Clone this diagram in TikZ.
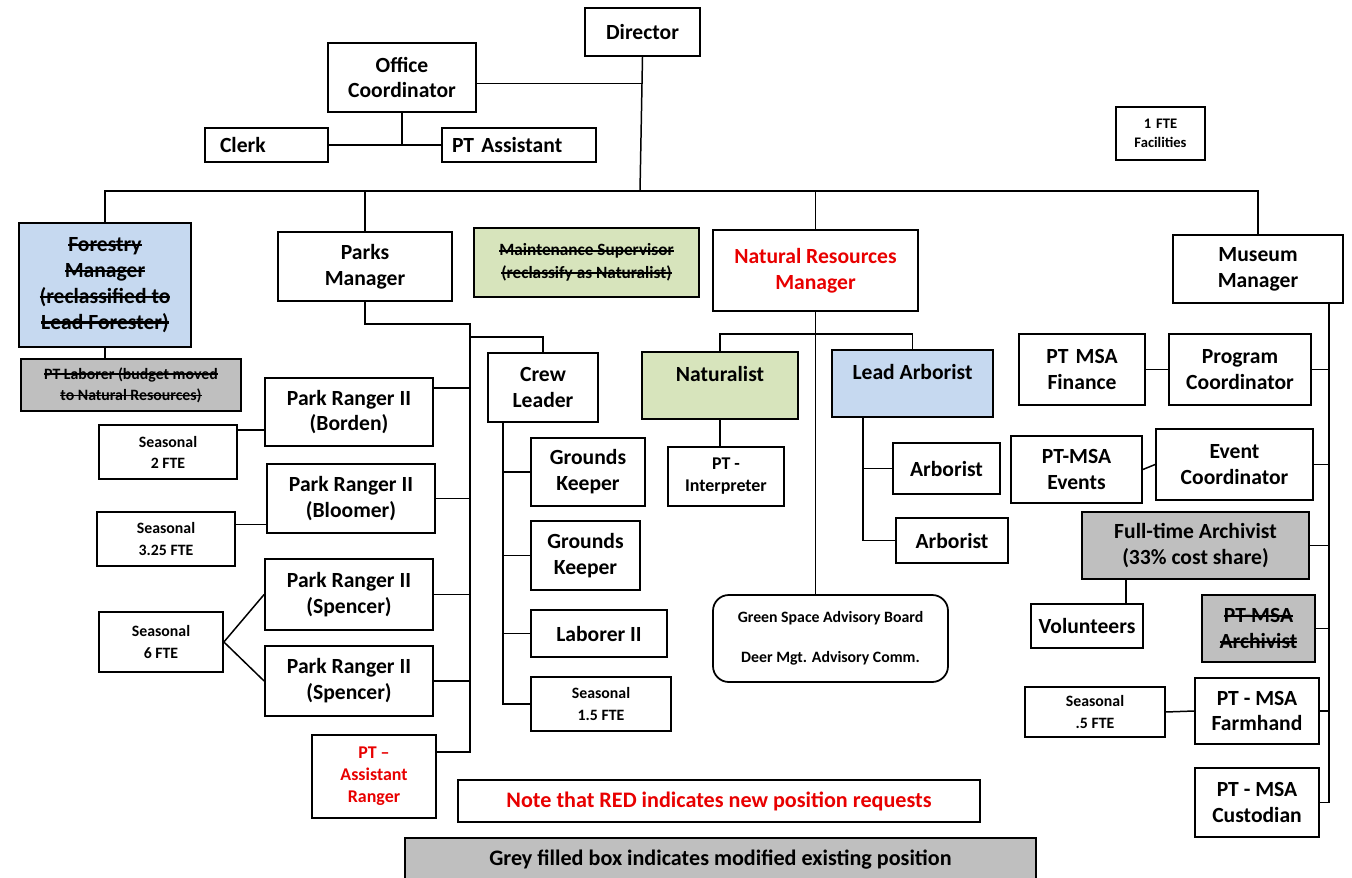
\documentclass[tikz,border=0pt]{standalone}
\usepackage{fontspec}
\setmainfont{Carlito}
\usetikzlibrary{calc}
\definecolor{bluef}{RGB}{198,217,240}
\definecolor{olivef}{RGB}{215,228,188}
\definecolor{greyf}{RGB}{191,191,191}
\definecolor{newred}{RGB}{232,0,0}
\newcommand\strk[1]{\leavevmode\setbox0\hbox{#1}\rlap{\rule[0.24em]{\wd0}{0.12em}}\box0}
\newcommand\bx[7]{\node[#6, minimum width={(#4-#2)*0.02cm}, minimum height={(#5-#3)*0.02cm}] (#1) at ({(#2+#4)/2},{(#3+#5)/2}) {#7};}
\tikzset{
  box/.style={draw=black, line width=1pt, inner sep=0pt, align=center, font=\bfseries\fontsize{12.3}{14.7}\selectfont},
  smallbox/.style={box, font=\bfseries\fontsize{9}{12}\selectfont},
  midbox/.style={box, font=\bfseries\fontsize{10.2}{12.5}\selectfont},
  conn/.style={draw=black, line width=0.85pt},
}
\begin{document}
\begin{tikzpicture}[x=0.02cm,y=-0.02cm]
\useasboundingbox (0,0) rectangle (1352,878);
% top
\bx{dir}{585}{8}{700}{56}{box}{Director}
\bx{oc}{328}{43}{476}{112}{box}{Office\\Coordinator}
\node[box, minimum height={34*0.02cm}, text width={(123-30)*0.02cm}, inner xsep={15*0.02cm}, align=left] (clerk) at (266.5,145) {Clerk};
\node[box, minimum height={34*0.02cm}, text width={(154-20)*0.02cm}, inner xsep={10*0.02cm}, align=left] (pta) at (519,145) {PT Assistant};
\bx{fac}{1116}{107}{1205}{160}{box, font=\bfseries\fontsize{8.3}{10.8}\selectfont}{1\,\,FTE\\Facilities}
% level 2
\bx{fm}{19}{223}{191}{347}{box, fill=bluef}{\strk{Forestry}\\\strk{Manager}\\\strk{(reclassified to}\\\strk{Lead Forester)}}
\bx{lab}{21}{359}{241}{411}{box, fill=greyf, font=\bfseries\fontsize{9}{12}\selectfont}{\strk{PT Laborer (budget moved}\\\strk{to Natural Resources)}}
\bx{pm}{278}{232}{452}{301}{box}{Parks\\Manager}
\bx{ms}{474}{228}{699}{297}{box, fill=olivef, font=\bfseries\fontsize{9.8}{13}\selectfont}{\strk{Maintenance Supervisor}\\\strk{(reclassify as Naturalist)}}
\bx{nrm}{713}{230}{918}{311}{box, text=newred}{Natural Resources\\Manager}
\bx{mm}{1173}{235}{1343}{303}{box}{Museum\\Manager}
% parks
\bx{pr1}{265}{378}{433}{446}{box}{Park Ranger II\\(Borden)}
\bx{pr2}{267}{464}{435}{533}{box}{Park Ranger II\\(Bloomer)}
\bx{pr3}{265}{559}{433}{630}{box}{Park Ranger II\\(Spencer)}
\bx{pr4}{265}{646}{433}{716}{box}{Park Ranger II\\(Spencer)}
\bx{ptar}{312}{735}{436}{818}{midbox, text=newred}{PT --\\Assistant\\Ranger}
\bx{s2}{99}{425}{237}{479}{smallbox}{Seasonal\\2 FTE}
\bx{s3}{97}{512}{235}{566}{smallbox}{Seasonal\\3.25 FTE}
\bx{s6}{99}{612}{223}{672}{smallbox}{Seasonal\\6 FTE}
\bx{cl}{488}{353}{598}{422}{box}{Crew\\Leader}
\bx{gk1}{531}{438}{645}{506}{box}{Grounds\\Keeper}
\bx{gk2}{531}{521}{640}{590}{box}{Grounds\\Keeper}
\bx{l2}{531}{610}{667}{657}{box}{Laborer II}
\bx{s15}{531}{677}{671}{731}{smallbox}{Seasonal\\1.5 FTE}
% natural resources
\bx{nat}{642}{352}{798}{419}{box, fill=olivef}{Naturalist\\[-2pt]\mbox{}}
\bx{pti}{668}{447}{784}{506}{midbox}{PT -\\Interpreter}
\bx{la}{832}{350}{993}{417}{box, fill=bluef}{Lead Arborist\\[-2pt]\mbox{}}
\bx{ar1}{893}{443}{1000}{494}{box}{Arborist}
\bx{ar2}{896}{518}{1008}{563}{box}{Arborist}
\node[box, rounded corners=9pt, minimum width={235*0.02cm}, minimum height={87*0.02cm}, font=\bfseries\fontsize{9}{11}\selectfont] (gs) at (830.5,638.5) {Green Space Advisory Board\\[12pt]Deer Mgt. Advisory Comm.};
% museum
\bx{fin}{1019}{334}{1145}{405}{box}{PT\,\,MSA\\Finance}
\bx{pc}{1169}{334}{1311}{405}{box}{Program\\Coordinator}
\bx{ev}{1011}{436}{1142}{503}{box}{PT-MSA\\Events}
\bx{ec}{1156}{429}{1313}{500}{box}{Event\\Coordinator}
\bx{fa}{1082}{512}{1309}{579}{box, fill=greyf}{Full-time Archivist\\(33\% cost share)}
\bx{vol}{1031}{604}{1143}{648}{box}{Volunteers}
\bx{arch}{1202}{595}{1315}{662}{box, fill=greyf}{\strk{PT-MSA}\\\strk{Archivist}}
\bx{s05}{1025}{687}{1165}{737}{smallbox}{Seasonal\\.5 FTE}
\bx{fh}{1195}{678}{1319}{744}{box}{PT - MSA\\Farmhand}
\bx{cus}{1195}{768}{1319}{837}{box}{PT - MSA\\Custodian}
% legend
\bx{note}{458}{780}{980}{822}{box, text=newred, font=\bfseries\fontsize{12.6}{14.7}\selectfont}{Note that RED indicates new position requests}
\bx{grey}{405}{838}{1036}{882}{box, fill=greyf, font=\bfseries\fontsize{12.6}{14.7}\selectfont}{Grey filled box indicates modified existing position}

% connectors top
\coordinate (bar) at (640,191);
\coordinate (ocr) at ($(oc.east)+(0,6)$);
\draw[conn] (dir.south) -- (bar);
\draw[conn] (ocr) -- (ocr -| dir.south);
\draw[conn] (oc.south) -- (oc.south |- clerk.east);
\draw[conn] (clerk.east) -- (pta.west);
\draw[conn] (fm.north) |- (mm.north |- bar) -- (mm.north);
\draw[conn] (pm.north) -- (pm.north |- bar);
\draw[conn] (nrm.north) -- (nrm.north |- bar);
\draw[conn] (fm.south) -- (fm.south |- lab.north);
% parks
\coordinate (pv) at (470,324);
\coordinate (cb) at (470,337);
\coordinate (r1) at (470,388);
\coordinate (r5) at (470,752);
\draw[conn] (pm.south) |- (pv) -- (r5) -- (r5 -| ptar.east);
\draw[conn] (cb) -| (cl.north);
\draw[conn] (r1 -| pr1.east) -- (r1);
\draw[conn] (pr2.east) -- (pr2.east -| pv);
\draw[conn] (pr3.east) -- (pr3.east -| pv);
\draw[conn] (pr4.east) -- (pr4.east -| pv);
\path ($(pr1.south west)!0.24!(pr1.north west)$) coordinate (a1);
\draw[conn] (a1) -- (a1 -| s2.east);
\path ($(pr2.south west)!0.13!(pr2.north west)$) coordinate (a2);
\draw[conn] (a2) -- (a2 -| s3.east);
\draw[conn] (s6.east) -- (pr3.west);
\draw[conn] (s6.east) -- (pr4.west);
\coordinate (cv) at (503,422);
\draw[conn] (cv) |- (s15.west);
\draw[conn] (cv |- gk1.west) -- (gk1.west);
\draw[conn] (cv |- gk2.west) -- (gk2.west);
\draw[conn] (cv |- l2.west) -- (l2.west);
% natural resources
\coordinate (nb) at ($(nrm.south)+(0,22)$);
\draw[conn] (nrm.south) -- (nb);
\draw[conn] (nat.north) |- (nb) -| (la.north);
\draw[conn] (nb) -- (nb |- gs.north);
\draw[conn] (nat.south) -- (nat.south |- pti.north);
\coordinate (lv) at (863,417);
\draw[conn] (lv) |- (ar2.west);
\draw[conn] (lv |- ar1.west) -- (ar1.west);
% museum
\coordinate (mv) at (1329,303);
\draw[conn] (mv) -- (mv |- cus.east);
\draw[conn] (pc.east) -- (pc.east -| mv);
\draw[conn] (ec.east) -- (ec.east -| mv);
\draw[conn] (fa.east) -- (fa.east -| mv);
\draw[conn] (arch.east) -- (arch.east -| mv);
\draw[conn] (fh.east) -- (fh.east -| mv);
\draw[conn] (cus.east) -- (cus.east -| mv);
\draw[conn] (fin.east) -- (pc.west);
\draw[conn] (ev.east) -- (ec.west);
\draw[conn] (s05.east) -- (fh.west);
\coordinate (va) at (1126,579);
\draw[conn] (va) -- (va |- vol.north);
\end{tikzpicture}
\end{document}
